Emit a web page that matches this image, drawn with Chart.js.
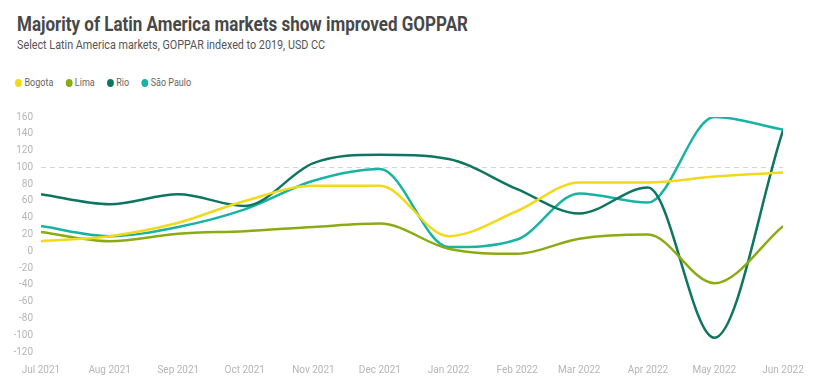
<!DOCTYPE html>
<html>
<head>
<meta charset="utf-8">
<script src="https://cdn.jsdelivr.net/npm/chart.js@4"></script>
<style>
  body { margin: 0; background: #fff; width: 829px; height: 387px; overflow: hidden; position: relative; font-family: Roboto, sans-serif; }
  #title { position: absolute; left: 17px; top: 12px; font-size: 21px; font-weight: 700; color: #484848; white-space: nowrap; transform: scaleX(0.81); transform-origin: left top; }
  #subtitle { position: absolute; left: 17px; top: 37px; font-size: 13px; color: #555; white-space: nowrap; transform: scaleX(0.83); transform-origin: left top; }
  #legend { position: absolute; left: 15px; top: 76px; display: flex; font-size: 10.5px; color: #666; transform: scaleX(0.86); transform-origin: left top; }
  .item { display: flex; align-items: center; margin-right: 14px; }
  .dot { width: 8px; height: 8px; border-radius: 50%; margin-right: 3px; }
  #chart { position: absolute; left: 0; top: 103px; }
</style>
</head>
<body>
<div id="title">Majority of Latin America markets show improved GOPPAR</div>
<div id="subtitle">Select Latin America markets, GOPPAR indexed to 2019, USD CC</div>
<div id="legend"></div>
<canvas id="chart" width="829" height="284"></canvas>
<script>
// Month labels for x-axis
const months = ['Jul 2021', 'Aug 2021', 'Sep 2021', 'Oct 2021', 'Nov 2021', 'Dec 2021',
                'Jan 2022', 'Feb 2022', 'Mar 2022', 'Apr 2022', 'May 2022', 'Jun 2022'];

// GOPPAR indexed to 2019
const bogota   = [12, 18, 34, 60, 78, 78, 18, 48, 82, 82, 89, 94];
const lima     = [23, 12, 21, 24, 29, 33, 3, -3, 15, 20, -38, 30];
const rio      = [68, 56, 68, 54, 105, 115, 110, 74, 45, 76, -103, 144];
const saoPaulo = [30, 18, 29, 50, 84, 98, 5, 14, 69, 58, 160, 145];

const seriesNames = ['Bogota', 'Lima', 'Rio', 'São Paulo'];
const seriesColors = ['#f2d91a', '#8aab13', '#0d7560', '#19b3a3'];

const yTicks = [-120, -100, -80, -60, -40, -20, 0, 20, 40, 60, 80, 100, 120, 140, 160];

// days since Jul 1 2021 for each month start (time axis spacing)
const start = Date.UTC(2021, 6, 1);
const dayOffsets = months.map((m, i) => (Date.UTC(2021, 6 + i, 1) - start) / 86400000);

// legend
const legend = document.getElementById('legend');
seriesNames.forEach((name, i) => {
    const el = document.createElement('div');
    el.className = 'item';
    el.innerHTML = `<span class="dot" style="background:${seriesColors[i]}"></span>${name}`;
    legend.appendChild(el);
});

const allValues = [bogota, lima, rio, saoPaulo];
const datasets = allValues.map((vals, i) => ({
    label: seriesNames[i],
    data: vals.map((v, j) => ({ x: dayOffsets[j], y: v })),
    borderColor: seriesColors[i],
    backgroundColor: seriesColors[i],
    borderWidth: 2.5,
    pointRadius: 0,
    cubicInterpolationMode: 'monotone',
    fill: false
}));

const tickFont = { family: 'Roboto, sans-serif', size: 10 };

new Chart(document.getElementById('chart'), {
    type: 'line',
    data: { datasets: datasets },
    options: {
        responsive: false,
        animation: false,
        layout: { padding: { top: 10, right: 46, left: 0, bottom: 0 } },
        plugins: {
            legend: { display: false },
            tooltip: { enabled: false }
        },
        scales: {
            x: {
                type: 'linear',
                min: dayOffsets[0],
                max: dayOffsets[dayOffsets.length - 1],
                afterBuildTicks: scale => { scale.ticks = dayOffsets.map(v => ({ value: v })); },
                afterFit: scale => { scale.height = 35; },
                grid: { display: false },
                border: { display: false },
                ticks: {
                    color: '#b5b5b5',
                    font: tickFont,
                    padding: 4,
                    maxRotation: 0,
                    autoSkip: false,
                    callback: v => months[dayOffsets.indexOf(v)]
                }
            },
            y: {
                min: yTicks[0],
                max: yTicks[yTicks.length - 1],
                afterBuildTicks: scale => { scale.ticks = yTicks.map(v => ({ value: v })); },
                afterFit: scale => { scale.width = 41; },
                grid: {
                    drawTicks: false,
                    color: ctx => (ctx.tick && ctx.tick.value === 100) ? '#d4d4d4' : 'rgba(0,0,0,0)',
                    lineWidth: 1
                },
                border: { display: false, dash: [5, 4] },
                ticks: {
                    color: '#b5b5b5',
                    font: tickFont,
                    padding: 8
                }
            }
        }
    }
});
</script>
</body>
</html>
